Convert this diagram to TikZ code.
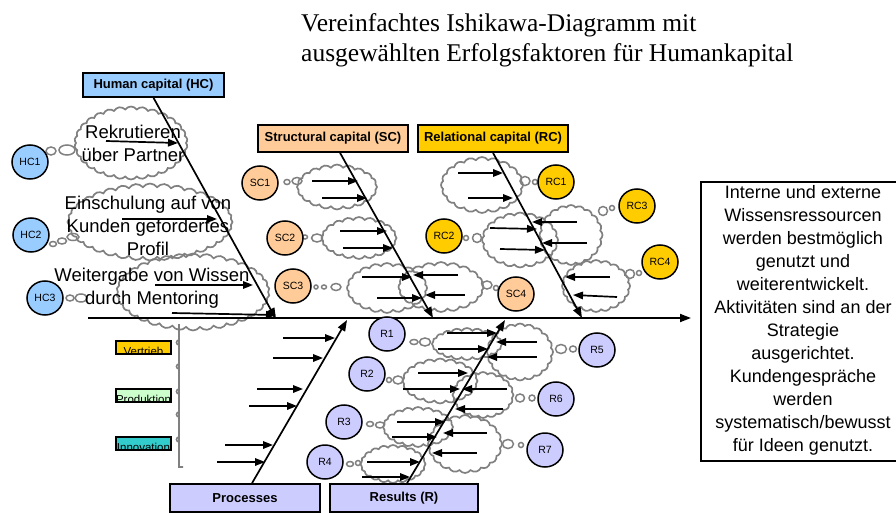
\documentclass[tikz,border=0pt]{standalone}
\usepackage{fontspec}
\setmainfont{Liberation Sans}
\newfontfamily\titlefont{Liberation Serif}
\usetikzlibrary{shapes.symbols,shapes.geometric,arrows.meta}
\definecolor{hcblue}{HTML}{99CCFF}
\definecolor{scpeach}{HTML}{FFCC99}
\definecolor{rcgold}{HTML}{FFCC00}
\definecolor{rlav}{HTML}{CCCCFF}
\definecolor{prgreen}{HTML}{CCFFCC}
\definecolor{inteal}{HTML}{33CCCC}
\definecolor{cloudgray}{HTML}{808080}
\begin{document}
\begin{tikzpicture}[x=1pt,y=-1pt,
  catbox/.style={draw, line width=1.6pt, font=\bfseries\fontsize{13}{15}\selectfont, inner sep=0, minimum height=#1},
  circ/.style={ellipse, draw, line width=1.5pt, fill=#1, minimum width=36pt, minimum height=34pt, inner sep=0, font=\fontsize{10.5}{12}\selectfont},
  cloudy/.style={cloud, cloud puffs=#1, cloud puff arc=110, cloud ignores aspect, draw=cloudgray, line width=1.7pt, inner sep=0},
  cloudy/.default=20,
  tailb/.style={ellipse, draw=cloudgray, line width=1.5pt, inner sep=0},
  bone/.style={line width=1.7pt, -{Triangle[length=11pt,width=8pt]}},
  sarrow/.style={line width=1.7pt, -{Triangle[length=10pt,width=7.5pt]}},
  cloudtext/.style={align=center, font=\fontsize{18.5}{23}\selectfont, inner sep=0},
  titletext/.style={anchor=base west, font=\titlefont\fontsize{25.5}{30}\selectfont, inner sep=0},
  legendbox/.style={draw, line width=1.4pt, fill=#1, minimum width=55pt, minimum height=13pt, inner sep=0},
  legendtext/.style={font=\fontsize{11.5}{12}\selectfont, inner sep=0}
]
\useasboundingbox (0,0) rectangle (896,513);

% title
\node[titletext] (title1) at (301,32) {Vereinfachtes Ishikawa-Diagramm mit};
\node[titletext] (title2) at (301,62) {ausgewählten Erfolgsfaktoren für Humankapital};

% clouds
\node[cloudy=30, minimum width=113pt, minimum height=73pt] (cl-hc1) at (131,143) {};
\node[cloudy=36, minimum width=165pt, minimum height=77pt] (cl-hc2) at (150,222) {};
\node[cloudy=34, minimum width=153pt, minimum height=77pt] (cl-hc3) at (193,292) {};
\node[cloudy, minimum width=80pt, minimum height=45pt] (cl-sc1) at (337,187) {};
\node[cloudy, minimum width=75pt, minimum height=42pt] (cl-sc2) at (359,238) {};
\node[cloudy, minimum width=80pt, minimum height=50pt] (cl-sc3) at (387,288) {};
\node[cloudy, minimum width=85pt, minimum height=50pt] (cl-sc4) at (441,287) {};
\node[cloudy, minimum width=82pt, minimum height=56pt] (cl-rc1) at (482,185) {};
\node[cloudy, minimum width=76pt, minimum height=55pt] (cl-rc2) at (520,240) {};
\node[cloudy, minimum width=63pt, minimum height=60pt] (cl-rc3) at (571,235) {};
\node[cloudy, minimum width=68pt, minimum height=52pt] (cl-rc4) at (596,286) {};
\node[cloudy, minimum width=70pt, minimum height=32pt] (cl-r1) at (467,344) {};
\node[cloudy, minimum width=66pt, minimum height=57pt] (cl-r5) at (520,352) {};
\node[cloudy, minimum width=75pt, minimum height=45pt] (cl-r2) at (440,381) {};
\node[cloudy, minimum width=61pt, minimum height=46pt] (cl-r6) at (483,395) {};
\node[cloudy, minimum width=70pt, minimum height=40pt] (cl-r3) at (418,427) {};
\node[cloudy, minimum width=74pt, minimum height=58pt] (cl-r7) at (465,444) {};
\node[cloudy, minimum width=65pt, minimum height=38pt] (cl-r4) at (393,464) {};

% grey wavy legend line
\draw[cloudgray, line width=1.6pt] (179,324) -- (179,345) arc[start angle=90,end angle=270,radius=2.5] -- (179,369)
  arc[start angle=90,end angle=270,radius=2.5] -- (179,394) arc[start angle=90,end angle=270,radius=2.5] -- (179,417)
  arc[start angle=90,end angle=270,radius=2.5] -- (179,442) arc[start angle=90,end angle=270,radius=2.5] -- (179,467) -- (183,467);

% tails
\node[tailb, minimum width=10pt, minimum height=8pt] (t-hc1a) at (51,151) {};
\node[tailb, minimum width=16pt, minimum height=10pt] (t-hc1b) at (67,150) {};
\node[tailb, minimum width=7pt, minimum height=5pt] (t-hc2a) at (53,244) {};
\node[tailb, minimum width=9pt, minimum height=6pt] (t-hc2b) at (62,241) {};
\node[tailb, minimum width=12pt, minimum height=7pt] (t-hc2c) at (73,237) {};
\node[tailb, minimum width=8pt, minimum height=6pt] (t-hc3a) at (70,298) {};
\node[tailb, minimum width=12pt, minimum height=8pt] (t-hc3b) at (81,298) {};
\node[tailb, minimum width=6pt, minimum height=5pt] (t-sc1a) at (287,182) {};
\node[tailb, minimum width=10pt, minimum height=7pt] (t-sc1b) at (297,181) {};
\node[tailb, minimum width=5pt, minimum height=4pt] (t-sc2a) at (305,237) {};
\node[tailb, minimum width=11pt, minimum height=8pt] (t-sc2b) at (317,238) {};
\node[tailb, minimum width=4pt, minimum height=4pt] (t-sc3a) at (316,287) {};
\node[tailb, minimum width=5pt, minimum height=4pt] (t-sc3b) at (324,287) {};
\node[tailb, minimum width=10pt, minimum height=7pt] (t-sc3c) at (336,287) {};
\node[tailb, minimum width=10pt, minimum height=8pt] (t-sc4a) at (487,285) {};
\node[tailb, minimum width=5pt, minimum height=5pt] (t-sc4b) at (496,288) {};
\node[tailb, minimum width=10pt, minimum height=9pt] (t-rc1a) at (525,181) {};
\node[tailb, minimum width=5pt, minimum height=5pt] (t-rc1b) at (535,182) {};
\node[tailb, minimum width=5pt, minimum height=5pt] (t-rc2a) at (466,238) {};
\node[tailb, minimum width=9pt, minimum height=9pt] (t-rc2b) at (477,238) {};
\node[tailb, minimum width=9pt, minimum height=9pt] (t-rc3a) at (603,211) {};
\node[tailb, minimum width=5pt, minimum height=5pt] (t-rc3b) at (612,208) {};
\node[tailb, minimum width=9pt, minimum height=9pt] (t-rc4a) at (630,274) {};
\node[tailb, minimum width=5pt, minimum height=5pt] (t-rc4b) at (639,273) {};
\node[tailb, minimum width=8pt, minimum height=5pt] (t-r1a) at (414,342) {};
\node[tailb, minimum width=11pt, minimum height=8pt] (t-r1b) at (425,342) {};
\node[tailb, minimum width=5pt, minimum height=5pt] (t-r2a) at (389,380) {};
\node[tailb, minimum width=10pt, minimum height=8pt] (t-r2b) at (398,380) {};
\node[tailb, minimum width=7pt, minimum height=5pt] (t-r3a) at (370,424) {};
\node[tailb, minimum width=9pt, minimum height=6pt] (t-r3b) at (380,425) {};
\node[tailb, minimum width=7pt, minimum height=5pt] (t-r4a) at (350,464) {};
\node[tailb, minimum width=5pt, minimum height=5pt] (t-r4b) at (358,463) {};
\node[tailb, minimum width=11pt, minimum height=9pt] (t-r5a) at (561,349) {};
\node[tailb, minimum width=7pt, minimum height=6pt] (t-r5b) at (573,349) {};
\node[tailb, minimum width=9pt, minimum height=8pt] (t-r6a) at (520,398) {};
\node[tailb, minimum width=6pt, minimum height=6pt] (t-r6b) at (532,398) {};
\node[tailb, minimum width=11pt, minimum height=9pt] (t-r7a) at (508,444) {};
\node[tailb, minimum width=5pt, minimum height=5pt] (t-r7b) at (521,445) {};

% category boxes
\node[catbox=24pt, fill=hcblue, minimum width=141pt] (hc) at (153.5,85) {Human capital (HC)};
\node[catbox=27pt, fill=scpeach, minimum width=150pt] (sc) at (333,138.5) {Structural capital (SC)};
\node[catbox=27pt, fill=rcgold, minimum width=150pt] (rc) at (493,138.5) {Relational capital (RC)};
\node[catbox=28pt, fill=rlav, minimum width=150pt] (pr) at (245,498) {Processes};
\node[catbox=28pt, fill=rlav, minimum width=148pt] (re) at (404,498) {Results (R)};

% outcome box
\draw[line width=1.6pt] (701,182) rectangle (912,461);
\node[align=center, font=\fontsize{18}{23}\selectfont, inner sep=0] (goal) at (803,320)
  {Interne und externe\\Wissensressourcen\\werden bestmöglich\\genutzt und\\weiterentwickelt.\\Aktivitäten sind an der\\Strategie\\ausgerichtet.\\Kundengespräche\\werden\\systematisch/bewusst\\für Ideen genutzt.};

% spine
\coordinate (spL) at (88,318);
\coordinate (spR) at (691,318);
\draw[bone] (spL) -- (spR);

% bones
\coordinate (hcE) at (276,319);
\coordinate (scE) at (433,318);
\coordinate (rcE) at (582,318);
\coordinate (prE) at (347,320);
\coordinate (reE) at (505,320);
\draw[bone] (hc.south) -- (hcE);
\draw[bone] ([xshift=7pt]sc.south) -- (scE);
\draw[bone] (rc.south) -- (rcE);
\draw[bone] ([xshift=7pt]pr.north) -- (prE);
\draw[bone] ([xshift=3pt]re.north) -- (reE);

% small arrows HC
\draw[sarrow] (106,141) -- (178,143);
\draw[sarrow] (122,219) -- (217,219);
\draw[sarrow] (155,285) -- (253,285);
\draw[sarrow] (172,313) -- (276,315);
% SC
\draw[sarrow] (312,181) -- (358,181);
\draw[sarrow] (322,198) -- (367,198);
\draw[sarrow] (340,231) -- (387,231);
\draw[sarrow] (343,248) -- (393,248);
\draw[sarrow] (362,277) -- (412,277);
\draw[sarrow] (377,298) -- (422,298);
\draw[sarrow] (458,275) -- (413,275);
\draw[sarrow] (465,295) -- (425,295);
% RC
\draw[sarrow] (458,173) -- (503,173);
\draw[sarrow] (468,198) -- (513,198);
\draw[sarrow] (490,228) -- (537,229);
\draw[sarrow] (500,249) -- (545,250);
\draw[sarrow] (577,222) -- (532,222);
\draw[sarrow] (587,243) -- (542,243);
\draw[sarrow] (610,277) -- (565,277);
\draw[sarrow] (617,297) -- (573,295);
% Processes
\draw[sarrow] (283,338) -- (335,338);
\draw[sarrow] (273,358) -- (323,358);
\draw[sarrow] (257,389) -- (303,389);
\draw[sarrow] (249,406) -- (297,406);
\draw[sarrow] (225,445) -- (273,445);
\draw[sarrow] (217,462) -- (265,462);
% Results
\draw[sarrow] (447,333) -- (497,333);
\draw[sarrow] (438,349) -- (488,349);
\draw[sarrow] (537,342) -- (496,342);
\draw[sarrow] (537,357) -- (487,357);
\draw[sarrow] (418,373) -- (468,373);
\draw[sarrow] (403,389) -- (460,389);
\draw[sarrow] (507,389) -- (462,389);
\draw[sarrow] (503,409) -- (455,409);
\draw[sarrow] (397,422) -- (445,422);
\draw[sarrow] (392,437) -- (437,437);
\draw[sarrow] (487,433) -- (443,433);
\draw[sarrow] (477,453) -- (432,453);
\draw[sarrow] (367,462) -- (420,462);
\draw[sarrow] (362,477) -- (410,477);

% cloud texts
\node[cloudtext] (tx-hc1) at (133,143) {Rekrutieren\\über Partner};
\node[cloudtext] (tx-hc2) at (148,226) {Einschulung auf von\\Kunden gefordertes\\Profil};
\node[cloudtext] (tx-hc3) at (152,288) {Weitergabe von Wissen\\durch Mentoring};

% circles
\node[circ=hcblue] (hc1) at (30,162) {HC1};
\node[circ=hcblue] (hc2) at (31,235) {HC2};
\node[circ=hcblue] (hc3) at (45,298) {HC3};
\node[circ=scpeach] (sc1) at (260,183) {SC1};
\node[circ=scpeach] (sc2) at (285,238) {SC2};
\node[circ=scpeach] (sc3) at (293,286) {SC3};
\node[circ=scpeach] (sc4) at (516,294) {SC4};
\node[circ=rcgold] (rc1) at (556,182) {RC1};
\node[circ=rcgold] (rc2) at (444,236) {RC2};
\node[circ=rcgold] (rc3) at (637,206) {RC3};
\node[circ=rcgold] (rc4) at (660,262) {RC4};
\node[circ=rlav] (r1) at (387,334) {R1};
\node[circ=rlav] (r2) at (367,374) {R2};
\node[circ=rlav] (r3) at (344,422) {R3};
\node[circ=rlav] (r4) at (325,462) {R4};
\node[circ=rlav] (r5) at (597,350) {R5};
\node[circ=rlav] (r6) at (556,399) {R6};
\node[circ=rlav] (r7) at (545,450) {R7};

% legend boxes (text partly hidden at the lower edge)
\node[legendbox=rcgold, path picture={\node[legendtext] at ([yshift=-4pt]path picture bounding box.center) {Vertrieb};}] (lg-v) at (143.5,347.5) {};
\node[legendbox=prgreen, path picture={\node[legendtext] at ([yshift=-4pt]path picture bounding box.center) {Produktion};}] (lg-p) at (143.5,395.5) {};
\node[legendbox=inteal, path picture={\node[legendtext] at ([yshift=-4pt]path picture bounding box.center) {Innovation};}] (lg-i) at (143.5,443.5) {};
\end{tikzpicture}
\end{document}
